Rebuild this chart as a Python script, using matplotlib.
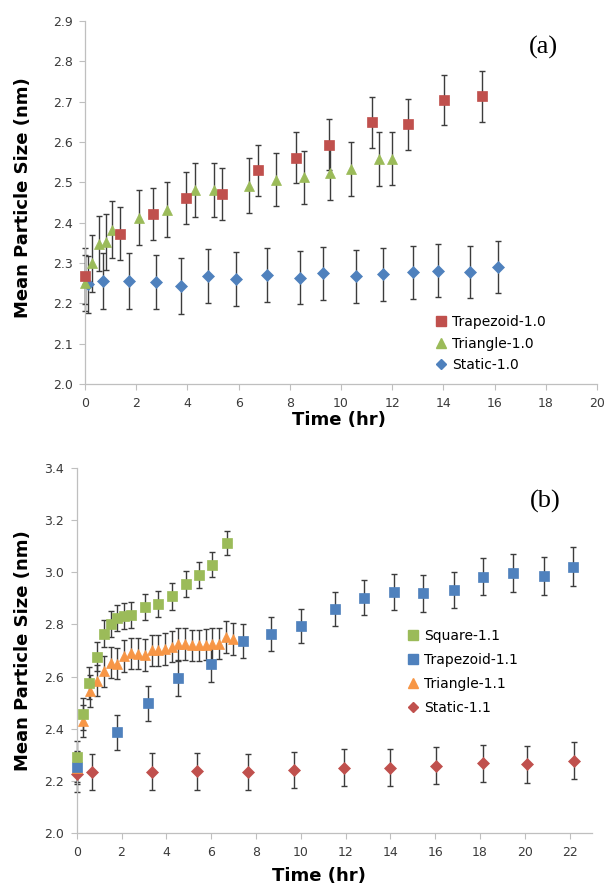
import matplotlib
matplotlib.use('Agg')
import matplotlib.pyplot as plt
from matplotlib.lines import Line2D
from matplotlib.ticker import FormatStrFormatter

# ---------------- Panel (a) data ----------------
trap10_t = [0, 1.35, 2.65, 3.95, 5.37, 6.75, 8.26, 9.55, 11.2, 12.62, 14.02, 15.49]
trap10_v = [2.268, 2.373, 2.421, 2.461, 2.471, 2.530, 2.561, 2.593, 2.649, 2.644, 2.703, 2.713]
trap10_e = [0.07, 0.065, 0.065, 0.065, 0.065, 0.063, 0.063, 0.063, 0.063, 0.063, 0.062, 0.063]

tri10_t = [0, 0.29, 0.56, 0.82, 1.07, 2.12, 3.2, 4.29, 5.05, 6.4, 7.47, 8.55, 9.58, 10.4, 11.47, 12.0]
tri10_v = [2.25, 2.299, 2.348, 2.352, 2.383, 2.412, 2.432, 2.482, 2.482, 2.492, 2.507, 2.512,
           2.522, 2.533, 2.558, 2.559]
tri10_e = [0.07, 0.07, 0.069, 0.07, 0.07, 0.068, 0.068, 0.067, 0.067, 0.068, 0.066, 0.066,
           0.066, 0.066, 0.066, 0.065]

stat10_t = [0.13, 0.69, 1.72, 2.76, 3.75, 4.8, 5.9, 7.11, 8.39, 9.3, 10.58, 11.64, 12.83, 13.8, 15.03, 16.14]
stat10_v = [2.247, 2.256, 2.256, 2.253, 2.243, 2.267, 2.261, 2.270, 2.264, 2.274, 2.267, 2.272,
            2.277, 2.281, 2.277, 2.290]
stat10_e = [0.07, 0.07, 0.069, 0.068, 0.069, 0.067, 0.067, 0.066, 0.066, 0.066, 0.066, 0.066,
            0.066, 0.065, 0.065, 0.065]

# ---------------- Panel (b) data ----------------
sq11_t = [0, 0.3, 0.57, 0.89, 1.21, 1.54, 1.81, 2.1, 2.44, 3.04, 3.63, 4.27, 4.87, 5.46, 6.06, 6.69]
sq11_v = [2.293, 2.457, 2.575, 2.677, 2.765, 2.80, 2.825, 2.831, 2.837, 2.868, 2.879, 2.907,
          2.955, 2.99, 3.028, 3.112]
sq11_e = [0.06, 0.06, 0.06, 0.055, 0.05, 0.05, 0.05, 0.05, 0.05, 0.05, 0.05, 0.05, 0.05, 0.05,
          0.048, 0.046]

trap11_t = [0, 1.79, 3.2, 4.54, 5.99, 7.42, 8.69, 10.02, 11.52, 12.82, 14.15, 15.44, 16.83,
            18.12, 19.46, 20.85, 22.16]
trap11_v = [2.255, 2.386, 2.498, 2.594, 2.649, 2.736, 2.763, 2.795, 2.859, 2.902, 2.925, 2.919,
            2.932, 2.983, 2.996, 2.985, 3.021]
trap11_e = [0.06, 0.068, 0.067, 0.067, 0.068, 0.065, 0.065, 0.065, 0.065, 0.067, 0.068, 0.07,
            0.07, 0.07, 0.073, 0.074, 0.075]

tri11_t = [0, 0.3, 0.6, 0.9, 1.21, 1.51, 1.82, 2.13, 2.43, 2.73, 3.03, 3.35, 3.65, 3.95, 4.25,
           4.54, 4.84, 5.14, 5.44, 5.75, 6.04, 6.37, 6.68, 6.97]
tri11_v = [2.25, 2.43, 2.545, 2.585, 2.62, 2.654, 2.65, 2.679, 2.689, 2.688, 2.683, 2.70, 2.701,
           2.706, 2.715, 2.725, 2.725, 2.72, 2.72, 2.722, 2.725, 2.726, 2.752, 2.744]
tri11_e = [0.06] * len(tri11_t)

stat11_t = [0, 0.7, 3.38, 5.39, 7.64, 9.7, 11.93, 14.0, 16.03, 18.13, 20.08, 22.2]
stat11_v = [2.228, 2.235, 2.236, 2.237, 2.235, 2.242, 2.251, 2.251, 2.259, 2.268, 2.264, 2.278]
stat11_e = [0.07] * len(stat11_t)

labels_a = ['Trapezoid-1.0', 'Triangle-1.0', 'Static-1.0']
labels_b = ['Square-1.1', 'Trapezoid-1.1', 'Triangle-1.1', 'Static-1.1']

RED = '#C0504D'
GREEN = '#9BBB59'
BLUE = '#4F81BD'
ORANGE = '#F79646'
ECOL = '#3c3c3c'
AXCOL = '#BFBFBF'

W, H = 605, 888
fig = plt.figure(figsize=(W / 100, H / 100), dpi=100)


def fx(px):
    return px / W


def fy(py):
    return 1 - py / H


def style_axes(ax):
    for s in ['top', 'right']:
        ax.spines[s].set_visible(False)
    for s in ['left', 'bottom']:
        ax.spines[s].set_color(AXCOL)
        ax.spines[s].set_linewidth(0.9)
    ax.tick_params(axis='both', length=4, width=0.8, color=AXCOL, labelsize=9,
                   labelcolor='#3a3a3a', pad=5)
    ax.yaxis.set_major_formatter(FormatStrFormatter('%.1f'))


def series(ax, t, v, e, marker, color, ms):
    ax.errorbar(t, v, yerr=e, fmt='none', ecolor=ECOL, elinewidth=1.0, capsize=2,
                capthick=1.0, zorder=2, clip_on=False)
    ax.plot(t, v, ls='none', marker=marker, ms=ms, mfc=color, mec=color, mew=0.5,
            zorder=3, clip_on=False)


# ---------------- Panel (a) ----------------
ax1 = fig.add_axes([fx(85), fy(384), (597 - 85) / W, (384 - 21) / H])
series(ax1, stat10_t, stat10_v, stat10_e, 'D', BLUE, 6.2)
series(ax1, tri10_t, tri10_v, tri10_e, '^', GREEN, 7.8)
series(ax1, trap10_t, trap10_v, trap10_e, 's', RED, 7.8)
ax1.set_xlim(0, 20)
ax1.set_ylim(2.0, 2.9)
ax1.set_xticks(range(0, 21, 2))
ax1.set_yticks([2.0 + 0.1 * i for i in range(10)])
style_axes(ax1)

h_a = [Line2D([], [], ls='none', marker='s', ms=6.5, mfc=RED, mec=RED),
       Line2D([], [], ls='none', marker='^', ms=6.5, mfc=GREEN, mec=GREEN),
       Line2D([], [], ls='none', marker='D', ms=5.0, mfc=BLUE, mec=BLUE)]
fig.legend(h_a, labels_a, loc='upper left', bbox_to_anchor=(fx(435), fy(315)),
           frameon=False, fontsize=10, handlelength=0.8, handletextpad=0.4,
           labelspacing=0.55, borderpad=0, borderaxespad=0)

fig.text(fx(543), fy(47), '(a)', fontsize=19, family='Liberation Serif',
         ha='center', va='center')
fig.text(fx(339), fy(420), 'Time (hr)', fontsize=13, fontweight='bold',
         ha='center', va='center')
fig.text(fx(23), fy(198), 'Mean Particle Size (nm)', fontsize=13, fontweight='bold',
         rotation=90, ha='center', va='center')

# ---------------- Panel (b) ----------------
ax2 = fig.add_axes([fx(76.7), fy(833.3), (592 - 76.7) / W, (833.3 - 467.7) / H])
series(ax2, stat11_t, stat11_v, stat11_e, 'D', RED, 5.8)
series(ax2, tri11_t, tri11_v, tri11_e, '^', ORANGE, 7.0)
series(ax2, trap11_t, trap11_v, trap11_e, 's', BLUE, 7.2)
series(ax2, sq11_t, sq11_v, sq11_e, 's', GREEN, 7.2)
ax2.set_xlim(0, 23)
ax2.set_ylim(2.0, 3.4)
ax2.set_xticks(range(0, 23, 2))
ax2.set_yticks([2.0 + 0.2 * i for i in range(8)])
style_axes(ax2)

h_b = [Line2D([], [], ls='none', marker='s', ms=6.5, mfc=GREEN, mec=GREEN),
       Line2D([], [], ls='none', marker='s', ms=6.5, mfc=BLUE, mec=BLUE),
       Line2D([], [], ls='none', marker='^', ms=6.5, mfc=ORANGE, mec=ORANGE),
       Line2D([], [], ls='none', marker='D', ms=5.0, mfc=RED, mec=RED)]
fig.legend(h_b, labels_b, loc='upper left', bbox_to_anchor=(fx(407), fy(629)),
           frameon=False, fontsize=10, handlelength=0.8, handletextpad=0.4,
           labelspacing=0.72, borderpad=0, borderaxespad=0)

fig.text(fx(545), fy(501), '(b)', fontsize=19, family='Liberation Serif',
         ha='center', va='center')
fig.text(fx(319), fy(876), 'Time (hr)', fontsize=13, fontweight='bold',
         ha='center', va='center')
fig.text(fx(23), fy(651), 'Mean Particle Size (nm)', fontsize=13, fontweight='bold',
         rotation=90, ha='center', va='center')

fig.savefig('out.png', dpi=100)
